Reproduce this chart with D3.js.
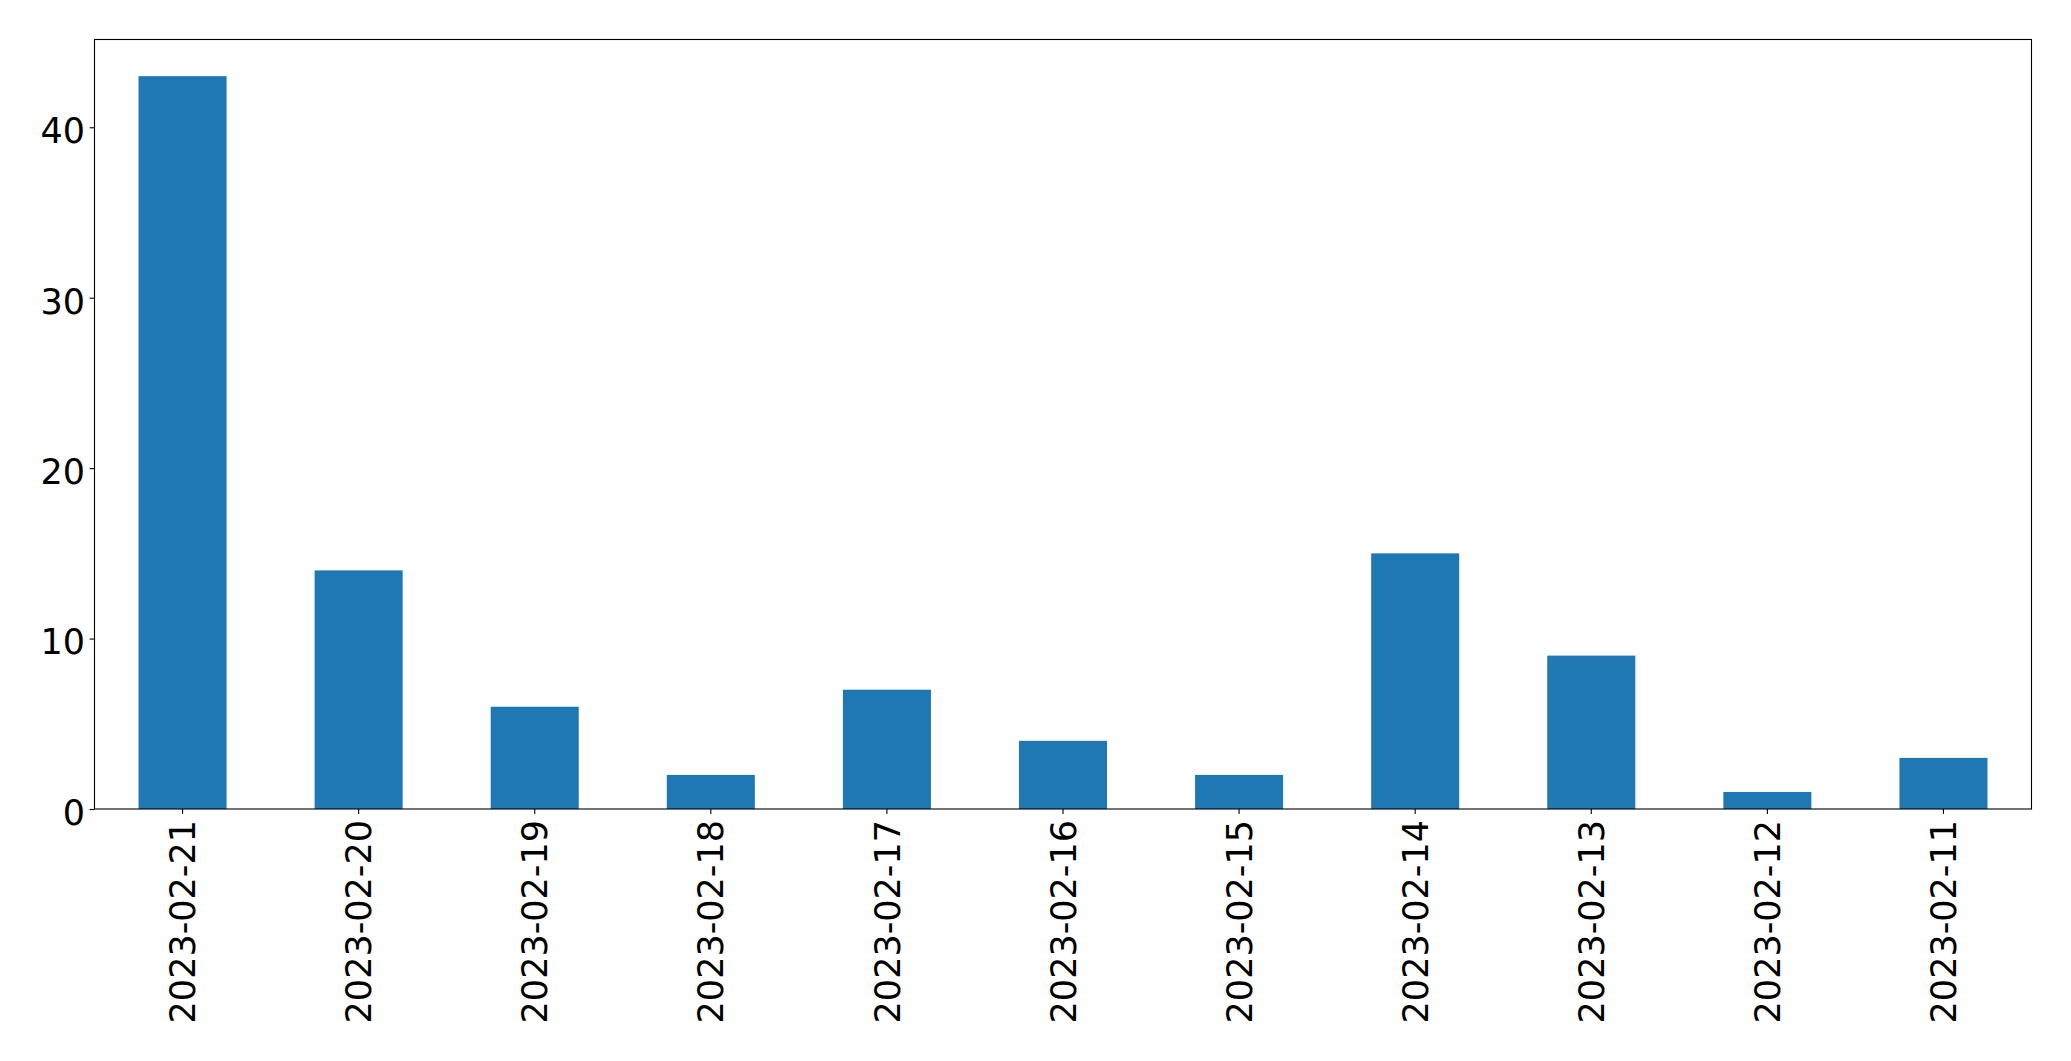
<!DOCTYPE html>
<html>
<head>
<meta charset="utf-8">
<script src="https://cdn.jsdelivr.net/npm/d3@7"></script>
<style>
  html, body { margin: 0; padding: 0; background: #fff; }
  svg { display: block; }
  text { font-family: "DejaVu Sans", sans-serif; fill: #000; }
</style>
</head>
<body>
<svg id="chart" width="2071" height="1061"></svg>
<script>
const categories = ["2023-02-21","2023-02-20","2023-02-19","2023-02-18","2023-02-17","2023-02-16","2023-02-15","2023-02-14","2023-02-13","2023-02-12","2023-02-11"];
const counts = [43, 14, 6, 2, 7, 4, 2, 15, 9, 1, 3];
const yTicks = [0, 10, 20, 30, 40];

const W = 2071, H = 1061;
const margin = { left: 94.5, right: 2071 - 2031.5, top: 39.5, bottom: H - 809 };
const svg = d3.select("#chart");
const fontSize = 35;

const x = d3.scaleBand()
  .domain(categories)
  .range([margin.left, W - margin.right])
  .paddingInner(0.5)
  .paddingOuter(0.25);

const yMax = d3.max(counts) * 1.05;
const y = d3.scaleLinear()
  .domain([0, yMax])
  .range([H - margin.bottom, margin.top]);

// bars
svg.append("g")
  .selectAll("rect")
  .data(categories.map((c, i) => ({ c, v: counts[i] })))
  .join("rect")
  .attr("x", d => x(d.c))
  .attr("width", x.bandwidth())
  .attr("y", d => y(d.v))
  .attr("height", d => y(0) - y(d.v))
  .attr("fill", "#1f77b4");

// x axis
const xAxis = svg.append("g")
  .attr("transform", `translate(0,${y(0)})`)
  .call(d3.axisBottom(x).tickSize(4.9).tickSizeOuter(0).tickPadding(0));
xAxis.select(".domain").remove();
xAxis.selectAll(".tick line").attr("stroke", "#000").attr("stroke-width", 1.1);
xAxis.selectAll(".tick text")
  .attr("font-size", fontSize)
  .attr("font-family", "DejaVu Sans")
  .attr("fill", "#000")
  .attr("text-anchor", "end")
  .attr("transform", "translate(0,11) rotate(-90)")
  .attr("x", 0)
  .attr("y", 0)
  .attr("dy", "0.36em");

// y axis
const yAxis = svg.append("g")
  .attr("transform", `translate(${margin.left},0)`)
  .call(d3.axisLeft(y).tickValues(yTicks).tickSize(4.9).tickSizeOuter(0).tickPadding(4.6));
yAxis.select(".domain").remove();
yAxis.selectAll(".tick line").attr("stroke", "#000").attr("stroke-width", 1.1);
yAxis.selectAll(".tick text")
  .attr("font-size", fontSize)
  .attr("font-family", "DejaVu Sans")
  .attr("fill", "#000")
  .attr("dy", "0.44em");

// frame (spines)
svg.append("rect")
  .attr("x", margin.left)
  .attr("y", margin.top)
  .attr("width", W - margin.right - margin.left)
  .attr("height", H - margin.bottom - margin.top)
  .attr("fill", "none")
  .attr("stroke", "#000")
  .attr("stroke-width", 1.1);
</script>
</body>
</html>
